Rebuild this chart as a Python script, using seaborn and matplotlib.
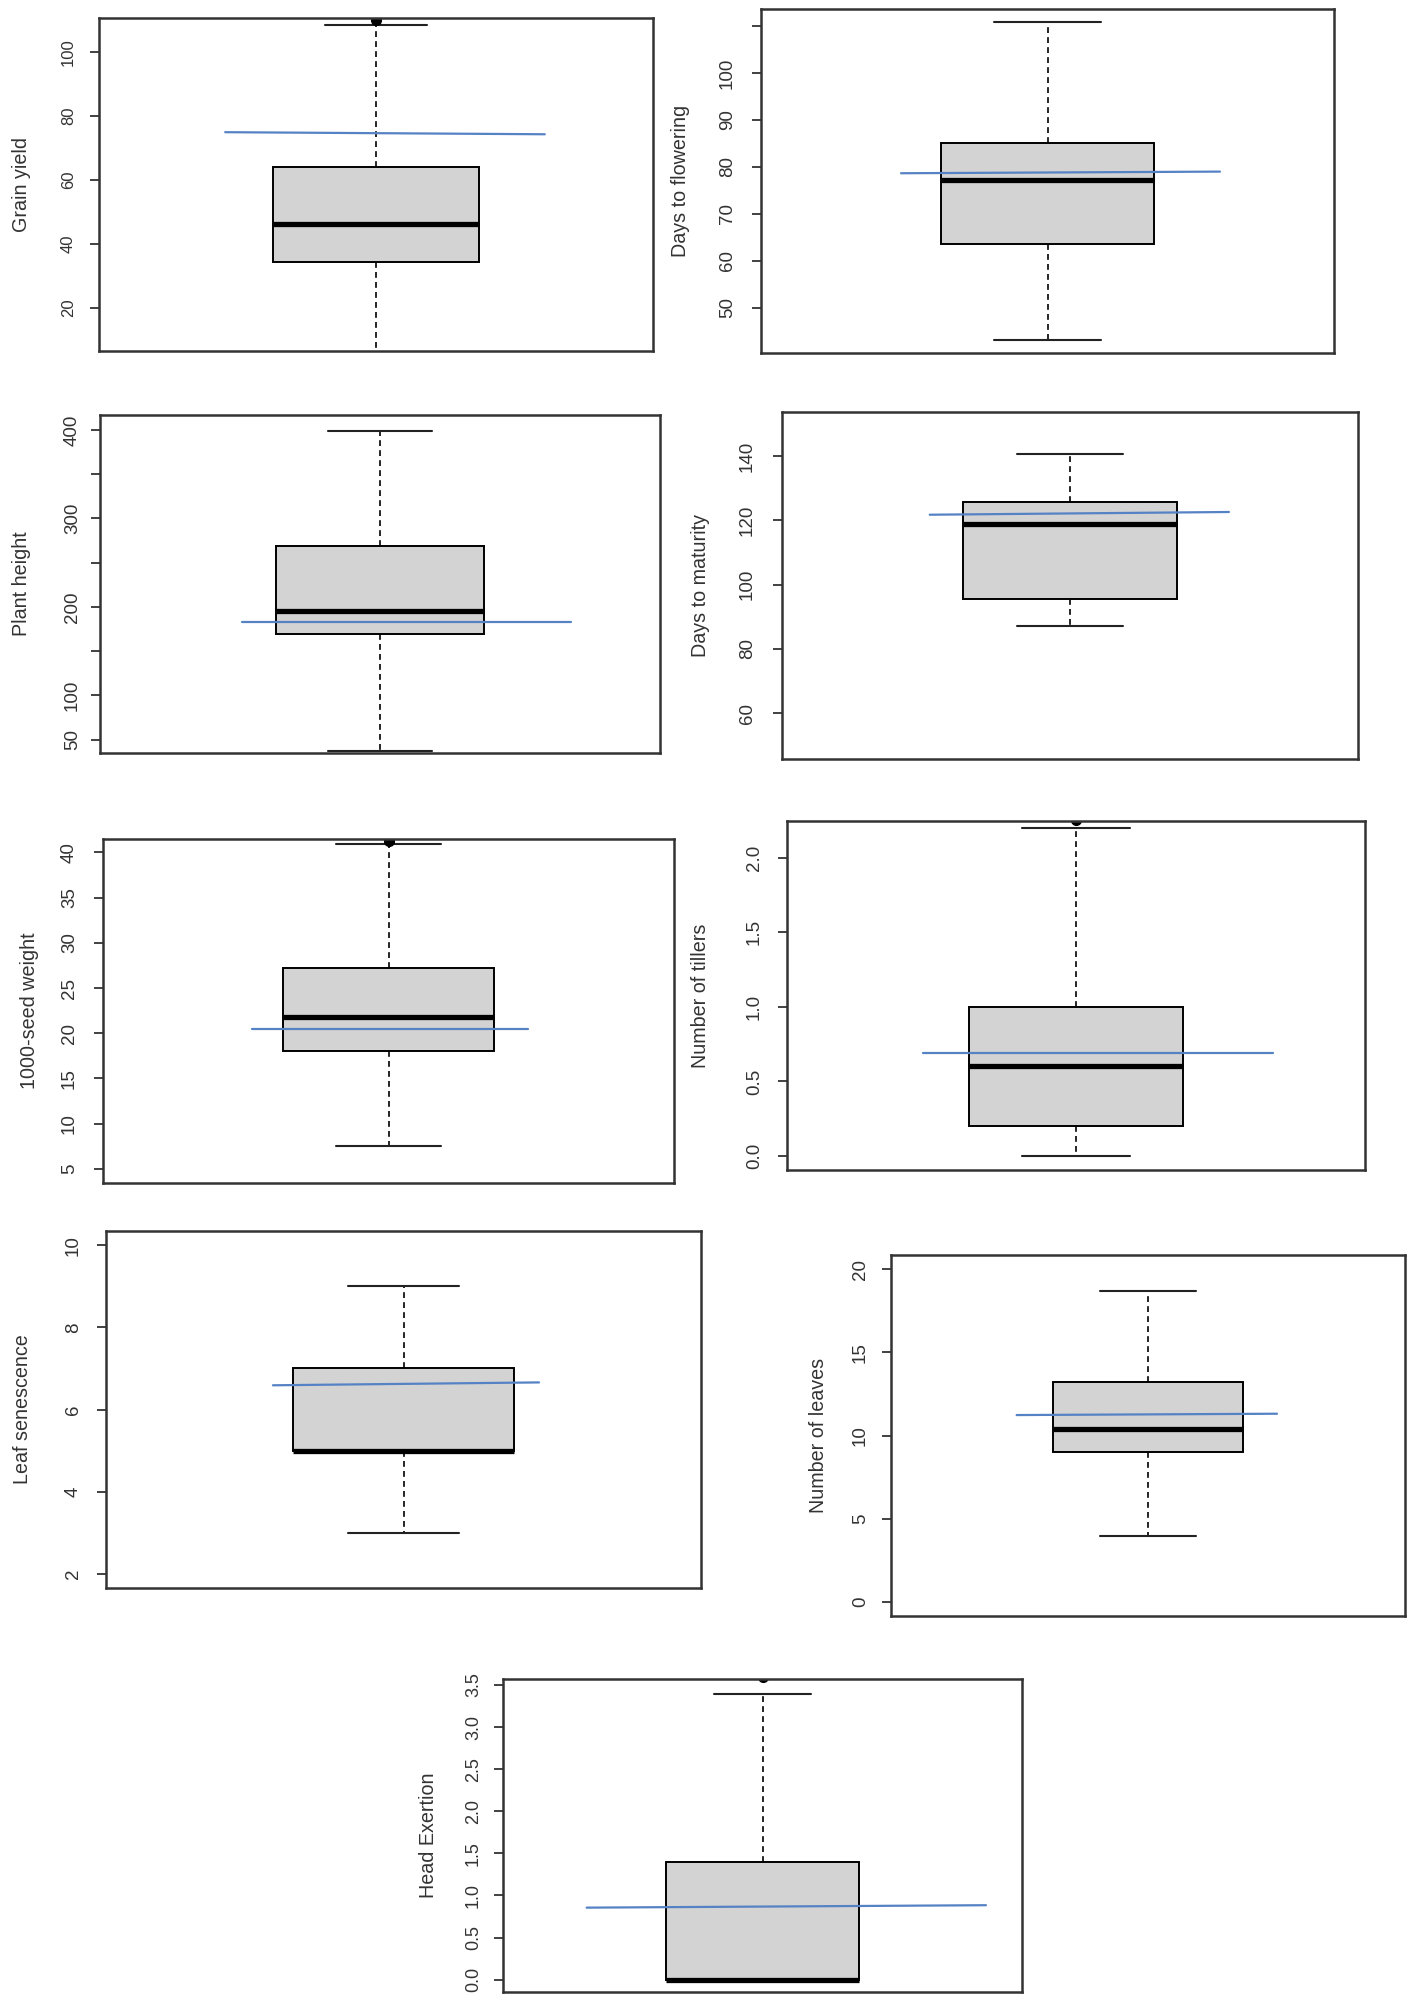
import numpy as np
import matplotlib
matplotlib.use("Agg")
import matplotlib.pyplot as plt
import seaborn as sns

# Five-number summaries (one box per trait)
traits = ["Grain yield", "Days to flowering", "Plant height", "Days to maturity",
          "1000-seed weight", "Number of tillers", "Leaf senescence",
          "Number of leaves", "Head Exertion"]
whisker_low = [5.0, 43.2, 37.6, 87.0, 7.5, 0.0, 3.0, 3.95, 0.0]
q1 = [34.2, 63.5, 170.0, 95.4, 18.0, 0.2, 5.0, 9.03, 0.0]
median = [46.2, 77.2, 195.6, 119.0, 21.8, 0.6, 5.0, 10.4, 0.0]
q3 = [64.0, 85.0, 269.4, 125.9, 27.2, 1.0, 7.0, 13.2, 1.4]
whisker_high = [108.7, 110.9, 399.0, 140.7, 40.9, 2.2, 9.0, 18.7, 3.39]
outliers = [[110.3], [], [], [], [41.3], [2.255], [], [], [3.59]]

# blue reference (mean) line, value at its left and right end
mean_left = [75.0, 78.65, 182.5, 121.8, 20.43, 0.688, 6.59, 11.23, 0.855]
mean_right = [74.35, 79.0, 182.5, 122.65, 20.43, 0.688, 6.66, 11.31, 0.884]

# y ticks and their labels
tick_values = [
    [20, 40, 60, 80, 100],
    [50, 60, 70, 80, 90, 100, 110],
    [50, 100, 150, 200, 250, 300, 350, 400],
    [60, 80, 100, 120, 140],
    [5, 10, 15, 20, 25, 30, 35, 40],
    [0.0, 0.5, 1.0, 1.5, 2.0],
    [2, 4, 6, 8, 10],
    [0, 5, 10, 15, 20],
    [0.0, 0.5, 1.0, 1.5, 2.0, 2.5, 3.0, 3.5],
]
tick_labels = [
    ["20", "40", "60", "80", "100"],
    ["50", "60", "70", "80", "90", "100", ""],
    ["50", "100", "", "200", "", "300", "", "400"],
    ["60", "80", "100", "120", "140"],
    ["5", "10", "15", "20", "25", "30", "35", "40"],
    ["0.0", "0.5", "1.0", "1.5", "2.0"],
    ["2", "4", "6", "8", "10"],
    ["0", "5", "10", "15", "20"],
    ["0.0", "0.5", "1.0", "1.5", "2.0", "2.5", "3.0", "3.5"],
]

# layout: panel box in pixels (left, top, right, bottom), y limits,
# x extent of the blue line, label / tick label offsets (px left of axis)
W, H = 1417, 2012
layout = [
    dict(rect=(99, 18, 653, 351), ylim=(6.4, 110.8), mx=(0.706, 1.329), lab=77, tl=33, fs=12),
    dict(rect=(761, 9, 1334, 353), ylim=(40.4, 113.6), mx=(0.724, 1.325), lab=81, tl=35, fs=13.5),
    dict(rect=(100, 415, 660, 753), ylim=(35, 416.9), mx=(0.733, 1.368), lab=78, tl=29, fs=13.5),
    dict(rect=(782, 412, 1358, 759), ylim=(45.7, 153.8), mx=(0.737, 1.298), lab=81, tl=36, fs=13.5),
    dict(rect=(103, 839, 674, 1183), ylim=(3.45, 41.47), mx=(0.742, 1.264), lab=74, tl=35, fs=13.5),
    dict(rect=(787, 821, 1365, 1170), ylim=(-0.094, 2.246), mx=(0.714, 1.368), lab=87, tl=34, fs=13.5),
    dict(rect=(106, 1231, 701, 1588), ylim=(1.65, 10.35), mx=(0.763, 1.246), lab=83, tl=34, fs=13.5),
    dict(rect=(891, 1255, 1405, 1616), ylim=(-0.86, 20.86), mx=(0.724, 1.271), lab=72, tl=32, fs=13.5),
    dict(rect=(503, 1679, 1022, 1992), ylim=(-0.147, 3.571), mx=(0.634, 1.465), lab=74, tl=31, fs=13),
]

sns.set_theme(style="ticks")
plt.rcParams["font.family"] = ["Liberation Sans", "DejaVu Sans"]

text_col = "#333333"
frame_col = "#333333"
blue = "#5582c4"

fig = plt.figure(figsize=(W / 100, H / 100), dpi=100)
fig.patch.set_facecolor("white")

for i, name in enumerate(traits):
    lay = layout[i]
    l, t, r, b = lay["rect"]
    ax = fig.add_axes([l / W, 1 - b / H, (r - l) / W, (b - t) / H])
    ax.set_facecolor("white")

    stats = [dict(med=median[i], q1=q1[i], q3=q3[i],
                  whislo=whisker_low[i], whishi=whisker_high[i],
                  fliers=outliers[i])]
    ax.bxp(stats, positions=[1], widths=0.4, capwidths=0.2, patch_artist=True,
           boxprops=dict(facecolor="#d3d3d3", edgecolor="black", linewidth=1.4),
           medianprops=dict(color="black", linewidth=3.8, solid_capstyle="butt"),
           whiskerprops=dict(color="black", linewidth=1.2, linestyle=(0, (3.5, 2.5))),
           capprops=dict(color="#222222", linewidth=1.5),
           flierprops=dict(marker="o", markerfacecolor="black",
                           markeredgecolor="black", markersize=7))

    # blue mean line across the box
    ax.plot(lay["mx"], [mean_left[i], mean_right[i]], color=blue, lw=1.6, zorder=5)

    ax.set_xlim(0.46, 1.54)
    ax.set_ylim(*lay["ylim"])
    ax.set_xticks([])
    ax.set_yticks(tick_values[i])
    ax.set_yticklabels(tick_labels[i], rotation=90, va="center",
                       fontsize=lay["fs"], color=text_col)
    pad_px = lay["tl"] - 9 - 10
    ax.tick_params(axis="y", direction="out", length=6.5, width=1.3,
                   color=frame_col, pad=pad_px * 0.72)
    for s in ax.spines.values():
        s.set_visible(True)
        s.set_color(frame_col)
        s.set_linewidth(1.8)

    ax.text(-lay["lab"] / (r - l), 0.5, name, transform=ax.transAxes,
            rotation=90, ha="center", va="center", fontsize=14.2, color=text_col)

fig.savefig("out.png", dpi=100, facecolor="white")
